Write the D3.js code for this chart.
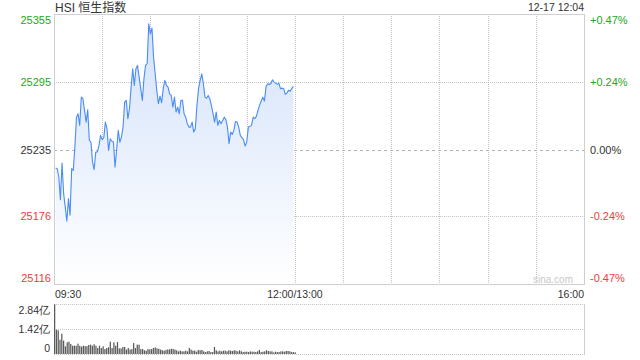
<!DOCTYPE html>
<html>
<head>
<meta charset="utf-8">
<script src="https://cdn.jsdelivr.net/npm/d3@7"></script>
<style>
  body { margin: 0; background: #fff; }
  svg { display: block; font-family: "Liberation Sans", Arial, "Noto Sans CJK SC", sans-serif; }
</style>
</head>
<body>
<div id="chart"></div>
<script>
// HSI intraday, one reading per minute from 09:31
var title = "HSI 恒生指数";
var stamp = "12-17 12:04";
var prevClose = 25235;
var priceTicks = [25355, 25295, 25235, 25176, 25116];
var pctTicks = ["+0.47%", "+0.24%", "0.00%", "-0.24%", "-0.47%"];
var timeLabels = [[0, "09:30"], [150, "12:00/13:00"], [330, "16:00"]];
var volTicks = [2.84, 1.42, 0];
var volLabels = ["2.84亿", "1.42亿", "0"];

var prices = [
  25218.6, 25218.1, 25210.7, 25190.7, 25223.1, 25196.0, 25184.1, 25171.5, 25191.6, 25176.8,
  25218.1, 25216.6, 25237.2, 25263.7, 25266.7, 25256.4, 25281.4, 25280.0, 25269.7, 25259.3,
  25270.3, 25243.1, 25241.6, 25223.9, 25217.3, 25232.8, 25232.8, 25238.7, 25247.6, 25243.8,
  25245.5, 25259.3, 25253.5, 25234.3, 25244.6, 25242.3, 25241.6, 25219.5, 25234.9, 25252.0,
  25241.6, 25246.1, 25254.9, 25277.0, 25278.5, 25262.3, 25271.2, 25290.3, 25306.5, 25291.8,
  25306.5, 25309.5, 25299.1, 25288.9, 25278.5, 25297.7, 25309.5, 25311.0, 25346.3, 25337.5,
  25342.5, 25316.8, 25302.1, 25287.4, 25275.6, 25282.3, 25276.5, 25288.9, 25296.2, 25291.8,
  25290.3, 25284.4, 25282.9, 25272.6, 25281.4, 25268.2, 25272.6, 25266.7, 25278.5, 25278.5,
  25266.7, 25263.7, 25257.9, 25254.9, 25254.9, 25259.3, 25250.5, 25253.5, 25274.1, 25288.9,
  25296.2, 25302.1, 25293.3, 25281.4, 25280.5, 25282.9, 25280.0, 25274.1, 25266.7, 25259.3,
  25268.2, 25256.4, 25260.8, 25257.9, 25260.8, 25263.7, 25261.4, 25254.9, 25240.2, 25250.5,
  25248.4, 25252.0, 25259.9, 25259.3, 25254.9, 25247.6, 25245.5, 25243.8, 25238.1, 25241.6,
  25254.9, 25255.5, 25256.4, 25263.7, 25262.3, 25264.4, 25269.7, 25274.1, 25277.9, 25281.4,
  25277.9, 25290.3, 25293.3, 25292.7, 25293.3, 25296.8, 25294.7, 25293.8, 25292.7, 25293.8,
  25288.9, 25289.4, 25288.9, 25283.8, 25285.0, 25287.4, 25286.7, 25288.9, 25290.9
];

// turnover bars (亿), 09:30 to 12:00
var volumes = [
  2.82, 1.38, 1.34, 0.81, 1.15, 0.76, 0.44, 0.66, 0.70, 0.57, 0.47, 0.47, 0.47, 0.59, 0.47,
  0.42, 0.47, 0.45, 0.44, 0.51, 0.53, 0.47, 0.55, 0.47, 0.34, 0.47, 0.34, 0.44, 0.28, 0.34,
  0.38, 0.70, 0.34, 0.66, 0.47, 0.68, 0.32, 0.32, 0.40, 0.40, 0.25, 0.34, 0.25,
  0.28, 0.62, 0.34, 0.53, 0.53, 0.28, 0.28, 0.21, 0.19, 0.28, 0.26, 0.28, 0.34, 0.38, 0.32,
  0.30, 0.25, 0.21, 0.19, 0.23, 0.26, 0.26, 0.30, 0.28, 0.25, 0.21, 0.15, 0.19, 0.15, 0.15,
  0.19, 0.15, 0.34, 0.25, 0.19, 0.19, 0.13, 0.23, 0.21, 0.23, 0.15, 0.11, 0.15, 0.17, 0.11, 0.11,
  0.40, 0.21, 0.15, 0.19, 0.15, 0.19, 0.19, 0.15, 0.21, 0.19, 0.17, 0.21, 0.19, 0.15, 0.21,
  0.15, 0.11, 0.13, 0.13, 0.11, 0.15, 0.13, 0.13, 0.11, 0.15, 0.23, 0.11, 0.13, 0.15, 0.21,
  0.17, 0.15, 0.15, 0.09, 0.13, 0.11, 0.11, 0.15, 0.15, 0.13, 0.17, 0.17, 0.15, 0.11, 0.11, 0.09
];

var green = "#22a822", red = "#f03c3c", ink = "#333", grid = "#c4c4c4";

var width = 640, height = 360;
var plot = {left: 54, right: 584, top: 14, bottom: 284};
var vol = {top: 304, bottom: 354};

var svg = d3.select("div#chart")
  .append("svg")
  .attr("width", width)
  .attr("height", height);

// minutes since 09:30, lunch break squeezed out
var x = d3.scaleLinear()
  .domain([0, 330])
  .range([plot.left, plot.right]);

var y = d3.scaleLinear()
  .domain([25116, 25355])
  .range([plot.bottom, plot.top]);

var yVol = d3.scaleLinear()
  .domain([0, 2.84])
  .range([vol.bottom, vol.top]);

var xBar = d3.scaleBand()
  .domain(d3.range(volumes.length))
  .range([x(0), x(150) + 1])
  .paddingInner(0.3);

function tickColor(i) { return i < 2 ? green : (i == 2 ? ink : red); }
// first and last labels sit inside the frame
function tickShift(i, n) { return i == 0 ? 6 : (i == n - 1 ? -6 : 0); }

// gradient under the line
var grad = svg.append("defs").append("linearGradient")
  .attr("id", "fade")
  .attr("gradientUnits", "userSpaceOnUse")
  .attr("x1", 0).attr("x2", 0)
  .attr("y1", plot.top).attr("y2", plot.bottom);
grad.append("stop").attr("offset", 0).attr("stop-color", "#d2e1fa");
grad.append("stop").attr("offset", 1).attr("stop-color", "#ffffff");

// vertical grid every half hour
svg.append("g")
  .selectAll("line")
  .data(d3.range(30, 330, 30))
  .enter().append("line")
  .attr("x1", d => Math.round(x(d)) + 0.5)
  .attr("x2", d => Math.round(x(d)) + 0.5)
  .attr("y1", plot.top)
  .attr("y2", plot.bottom)
  .attr("stroke", grid)
  .attr("stroke-dasharray", "1,1");

// horizontal grid
svg.append("g")
  .selectAll("line")
  .data(priceTicks.slice(1, -1))
  .enter().append("line")
  .attr("x1", plot.left)
  .attr("x2", plot.right)
  .attr("y1", d => Math.round(y(d)) + 0.5)
  .attr("y2", d => Math.round(y(d)) + 0.5)
  .attr("stroke", d => d == prevClose ? "#b4b4b4" : grid)
  .attr("stroke-dasharray", d => d == prevClose ? "3,3" : "1,1");

var area = d3.area()
  .x((d, i) => x(i + 1))
  .y0(plot.bottom)
  .y1(d => y(d));

var line = d3.line()
  .x((d, i) => x(i + 1))
  .y(d => y(d));

svg.append("path")
  .datum(prices)
  .attr("d", area)
  .attr("fill", "url(#fade)");

svg.append("path")
  .datum(prices)
  .attr("d", line)
  .attr("fill", "none")
  .attr("stroke", "#4a8cf5")
  .attr("stroke-width", 1.1)
  .attr("stroke-linejoin", "round");

// frame
svg.append("rect")
  .attr("x", plot.left + 0.5)
  .attr("y", plot.top + 0.5)
  .attr("width", plot.right - plot.left)
  .attr("height", plot.bottom - plot.top)
  .attr("fill", "none")
  .attr("stroke", "#cfcfcf");

// price axis on the left, percent axis on the right
var leftAxis = svg.append("g")
  .attr("transform", `translate(${plot.left - 3},0)`)
  .call(d3.axisLeft(y).tickValues(priceTicks).tickSize(0).tickPadding(0).tickFormat(d3.format("d")));
leftAxis.select(".domain").remove();
leftAxis.selectAll("text")
  .attr("font-size", 11)
  .attr("font-family", null)
  .attr("fill", (d, i) => tickColor(i))
  .attr("transform", (d, i) => `translate(0,${tickShift(i, priceTicks.length)})`);

var rightAxis = svg.append("g")
  .attr("transform", `translate(${plot.right + 6},0)`)
  .call(d3.axisRight(y).tickValues(priceTicks).tickSize(0).tickPadding(0)
    .tickFormat((d, i) => pctTicks[i]));
rightAxis.select(".domain").remove();
rightAxis.selectAll("text")
  .attr("font-size", 11)
  .attr("font-family", null)
  .attr("fill", (d, i) => tickColor(i))
  .attr("transform", (d, i) => `translate(0,${tickShift(i, priceTicks.length)})`);

// time labels under the frame
svg.append("g")
  .selectAll("text")
  .data(timeLabels)
  .enter().append("text")
  .attr("x", d => x(d[0]) + (d[0] == 0 ? 1 : 0))
  .attr("y", 297.5)
  .attr("font-size", 10.5)
  .attr("fill", ink)
  .attr("text-anchor", d => d[0] == 0 ? "start" : (d[0] == 330 ? "end" : "middle"))
  .text(d => d[1]);

svg.append("text")
  .attr("x", 573)
  .attr("y", 282.5)
  .attr("font-size", 10)
  .attr("fill", "#c8c8c8")
  .attr("text-anchor", "end")
  .text("sina.com");

svg.append("text")
  .attr("x", 55)
  .attr("y", 11.5)
  .attr("font-size", 12)
  .attr("fill", ink)
  .text(title);

svg.append("text")
  .attr("x", 584)
  .attr("y", 11)
  .attr("font-size", 10.5)
  .attr("fill", ink)
  .attr("text-anchor", "end")
  .text(stamp);

// volume panel
svg.append("g")
  .selectAll("line")
  .data(volTicks)
  .enter().append("line")
  .attr("x1", plot.left)
  .attr("x2", plot.right)
  .attr("y1", d => Math.round(yVol(d)) + 0.5)
  .attr("y2", d => Math.round(yVol(d)) + 0.5)
  .attr("stroke", grid)
  .attr("stroke-dasharray", "1,1");

svg.append("line")
  .attr("x1", plot.right + 0.5)
  .attr("x2", plot.right + 0.5)
  .attr("y1", vol.top)
  .attr("y2", vol.bottom + 1)
  .attr("stroke", "#cfcfcf");

svg.append("g")
  .selectAll("rect")
  .data(volumes)
  .enter().append("rect")
  .attr("x", (d, i) => xBar(i))
  .attr("width", xBar.bandwidth())
  .attr("y", d => yVol(d))
  .attr("height", d => vol.bottom - yVol(d))
  .attr("fill", "#5a5a5a");

var volAxis = svg.append("g")
  .attr("transform", `translate(${plot.left - 4},0)`)
  .call(d3.axisLeft(yVol).tickValues(volTicks).tickSize(0).tickPadding(0)
    .tickFormat((d, i) => volLabels[i]));
volAxis.select(".domain").remove();
volAxis.selectAll("text")
  .attr("font-size", 10.5)
  .attr("font-family", null)
  .attr("fill", ink)
  .attr("transform", (d, i) => `translate(0,${tickShift(i, volTicks.length)})`);
</script>
</body>
</html>
